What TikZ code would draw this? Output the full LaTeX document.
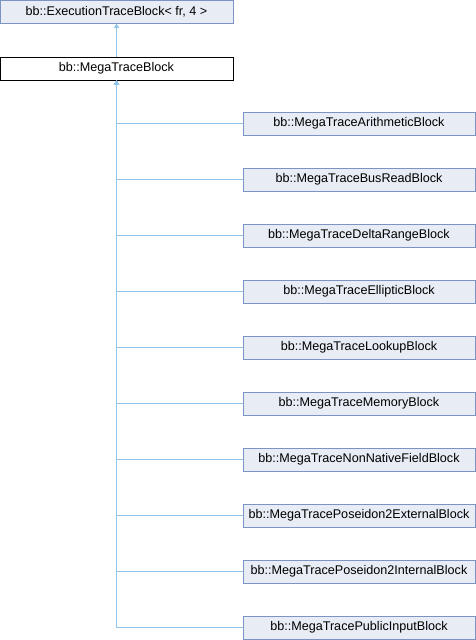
\documentclass[tikz,border=0pt]{standalone}
\usepackage{fontspec}
\setmainfont{Liberation Sans}
\usepackage{xcolor}
\definecolor{classFill}{HTML}{E8ECF5}
\definecolor{classDraw}{HTML}{7D93C4}
\definecolor{inheritEdge}{HTML}{8FC6EA}
\usetikzlibrary{arrows.meta}

\tikzset{
  classbox/.style={draw=classDraw, fill=classFill, line width=0.9pt,
    minimum height=23pt, inner sep=0pt, font=\fontsize{12.6}{14}\selectfont},
  currentbox/.style={classbox, draw=black, fill=white},
  inherit/.style={draw=inheritEdge, line width=1.1pt,
    -{Triangle[length=4.5pt, width=5pt]}}
}

\begin{document}
\begin{tikzpicture}[x=1pt, y=-1pt]
  \useasboundingbox (0,0) rectangle (476,640);
  % base class and current class
  \node[classbox, minimum width=233pt] (base) at (116.5,11.5) {bb::ExecutionTraceBlock< fr, 4 >};
  \node[currentbox, minimum width=233pt] (mega) at (116.5,68.5) {bb::MegaTraceBlock};
  \draw[inherit] (mega.north) -- (base.south);
  % derived blocks
  \foreach \name [count=\i from 0] in {Arithmetic, BusRead, DeltaRange, Elliptic, Lookup,
      Memory, NonNativeField, Poseidon2External, Poseidon2Internal, PublicInput} {
    \node[classbox, minimum width=232pt] (child\i) at (359,123.5+56*\i) {bb::MegaTrace\name Block};
    \draw[inherit] (child\i.west) -| (mega.south);
  }
\end{tikzpicture}
\end{document}
